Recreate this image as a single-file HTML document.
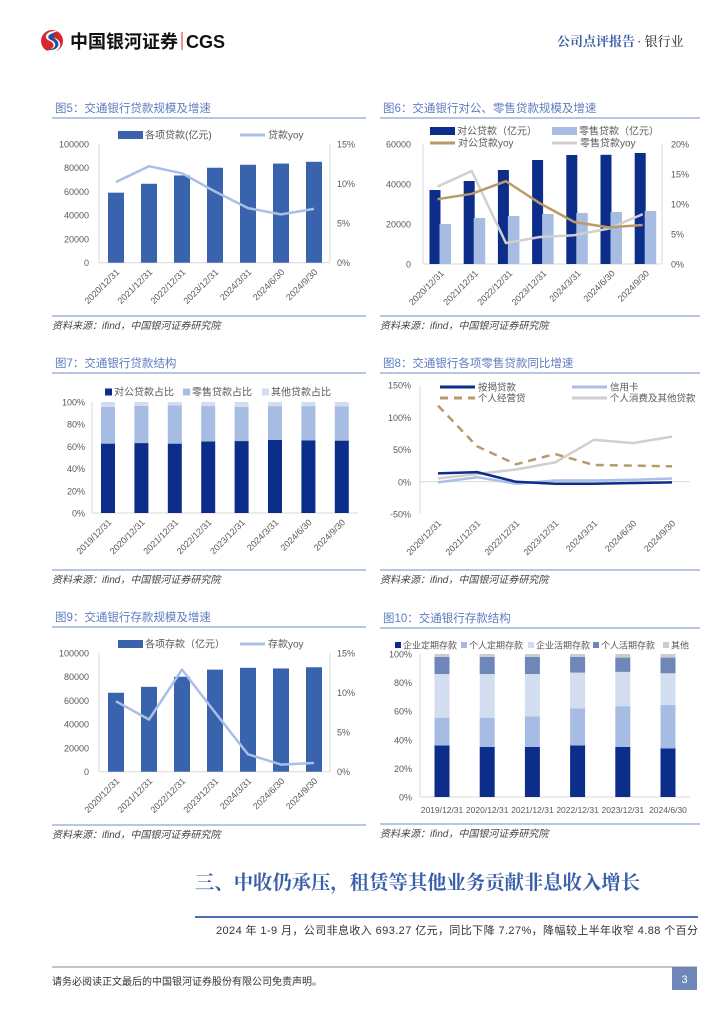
<!DOCTYPE html>
<html><head><meta charset="utf-8">
<style>
html,body{margin:0;padding:0;background:#fff;}
svg{display:block;font-family:"Liberation Sans","Noto Sans CJK SC",sans-serif;}
</style></head>
<body>
<svg id="page" width="724" height="1024" viewBox="0 0 724 1024" xmlns="http://www.w3.org/2000/svg">
  <g>
    <g>
      <circle cx="52" cy="41" r="11" fill="#d8262c"/>
      <path d="M58 31 C46 30 42 38 50 41 C57 44 53 51 44 51 C52 55 62 50 60 43 C58 37 50 38 51 35 C52 33 55 32 58 31 Z" fill="#fff"/>
      <path d="M56 33 C48 33 46 38 51 40 C58 43 56 49 48 50 C55 51 60 47 58 42 C56 38 50 38 56 33 Z" fill="#1f4e9c"/>
    </g>
    <text x="70" y="48" font-size="18" font-weight="bold" fill="#111">中国银河证券</text>
    <line x1="182" y1="32" x2="182" y2="50" stroke="#d8262c" stroke-width="1"/>
    <text x="186" y="48" font-size="18" font-weight="bold" fill="#111">CGS</text>
    <text x="557" y="46" font-size="13" font-family="'Liberation Serif','Noto Serif CJK SC',serif" font-weight="bold" fill="#3a5faa">公司点评报告</text>
    <text x="637" y="46" font-size="13" font-family="'Liberation Serif','Noto Serif CJK SC',serif" fill="#222">· 银行业</text>
  </g>
  <g id="charts"></g>
  <g>
    <text x="195" y="889" font-size="19.5" font-weight="bold" fill="#3a5faa" textLength="445" lengthAdjust="spacingAndGlyphs" font-family="'Liberation Serif','Noto Serif CJK SC',serif">三、中收仍承压，租赁等其他业务贡献非息收入增长</text>
    <line x1="195" y1="917" x2="698" y2="917" stroke="#4a6db5" stroke-width="2"/>
  </g>
  <text x="216" y="934" font-size="11" fill="#333" textLength="482" lengthAdjust="spacing">2024 年 1-9 月，公司非息收入 693.27 亿元，同比下降 7.27%，降幅较上半年收窄 4.88 个百分</text>
  <g>
    <line x1="52" y1="967" x2="697" y2="967" stroke="#888" stroke-width="1"/>
    <text x="52" y="985" font-size="10" fill="#333">请务必阅读正文最后的中国银河证券股份有限公司免责声明。</text>
    <rect x="672" y="967" width="25" height="23" fill="#6f87b8"/>
    <text x="684.5" y="983" font-size="11" fill="#fff" text-anchor="middle">3</text>
  </g>
</svg>
<script>
// ---- Figure 5 data
var f5Cats = ["2020/12/31","2021/12/31","2022/12/31","2023/12/31","2024/3/31","2024/6/30","2024/9/30"];
var f5Loans = [59000,66500,73500,80000,82500,83500,85000];
var f5Yoy = [10.2,12.2,11.3,9.0,6.9,6.1,6.8];
var f5LeftTicks = [0,20000,40000,60000,80000,100000];
var f5RightTicks = ["0%","5%","10%","15%"];
// ---- Figure 6 data
var f6Cats = ["2020/12/31","2021/12/31","2022/12/31","2023/12/31","2024/3/31","2024/6/30","2024/9/30"];
var f6Corp = [37000,41500,47000,52000,54500,54600,55500];
var f6Retail = [20000,23000,24000,25000,25500,26000,26500];
var f6CorpYoy = [10.8,11.7,13.8,10.1,7.0,6.1,6.5];
var f6RetailYoy = [12.9,15.5,3.5,4.5,4.8,5.9,8.3];
var f6LeftTicks = [0,20000,40000,60000];
var f6RightTicks = ["0%","5%","10%","15%","20%"];
// ---- Figure 7 data
var f7Cats = ["2019/12/31","2020/12/31","2021/12/31","2022/12/31","2023/12/31","2024/3/31","2024/6/30","2024/9/30"];
var f7Corp = [62.5,63,62.5,64.5,64.8,65.8,65.5,65.2];
var f7Retail = [33,33.5,34.5,31.8,30.8,30.5,30.8,30.8];
var f7Other = [4.5,3.5,3,3.7,4.4,3.7,3.7,4];
var f7Ticks = ["0%","20%","40%","60%","80%","100%"];
// ---- Figure 8 data
var f8Cats = ["2020/12/31","2021/12/31","2022/12/31","2023/12/31","2024/3/31","2024/6/30","2024/9/30"];
var f8Mortgage = [13,15,0,-3,-3,-2,-1];
var f8Card = [-1,7,-3,2,2,3,5];
var f8Biz = [118,55,27,43,26,25,24];
var f8Consumer = [5,12,19,30,65,60,70];
var f8Ticks = ["-50%","0%","50%","100%","150%"];
// ---- Figure 9 data
var f9Cats = ["2020/12/31","2021/12/31","2022/12/31","2023/12/31","2024/3/31","2024/6/30","2024/9/30"];
var f9Deposits = [66500,71500,80000,86000,87500,87000,88000];
var f9Yoy = [8.9,6.6,12.9,7.5,2.2,0.9,1.1];
var f9LeftTicks = [0,20000,40000,60000,80000,100000];
var f9RightTicks = ["0%","5%","10%","15%"];
// ---- Figure 10 data
var f10Cats = ["2019/12/31","2020/12/31","2021/12/31","2022/12/31","2023/12/31","2024/6/30"];
var f10CorpTime = [36,35,35,36,35,34];
var f10PersTime = [19.5,20.5,21.5,26,28.5,30.5];
var f10CorpDemand = [30.5,30.5,29.5,25,24,22];
var f10PersDemand = [12,12,12,11,10,11];
var f10Other = [2,2,2,2,2.5,2.5];
var f10Ticks = ["0%","20%","40%","60%","80%","100%"];

var NS="http://www.w3.org/2000/svg";
var root=document.getElementById('charts');
function mk(tag,attrs,parent,txt){var e=document.createElementNS(NS,tag);for(var k in attrs)e.setAttribute(k,attrs[k]);if(txt!==undefined)e.textContent=txt;(parent||root).appendChild(e);return e;}
function grp(name,parent){var g=mk('g',{},parent);


return g;}
function lin(d0,d1,r0,r1){return function(v){return r0+(v-d0)/(d1-d0)*(r1-r0);};}
var TC="#595959";

function frame(g,x0,x1,yTitle,title,ySrc){
  var t=mk('text',{x:x0+3,y:yTitle,'font-size':11.5,fill:'#5e7cbf'},g,title);
  
  
  mk('line',{x1:x0,y1:yTitle+6,x2:x1,y2:yTitle+6,stroke:'#9fb3dc','stroke-width':1.5},g);
  mk('line',{x1:x0,y1:ySrc,x2:x1,y2:ySrc,stroke:'#9fb3dc','stroke-width':1.5},g);
  var s=mk('text',{x:x0,y:ySrc+13,'font-size':10,fill:'#444','font-style':'italic'},g,'资料来源：ifind，中国银河证券研究院');
  
  
}
function rotLabels(g,cats,xf,y){
  cats.forEach(function(c,i){
    var t=mk('text',{x:xf(i)+4,y:y,'font-size':9,fill:TC,'text-anchor':'end',transform:'rotate(-45 '+(xf(i)+4)+' '+y+')'},g,c);
    
    
  });
}
function yLabels(g,vals,labels,yf,x,anchor){
  vals.forEach(function(v,i){
    var t=mk('text',{x:x,y:yf(v)+3.5,'font-size':9,fill:TC,'text-anchor':anchor},g,labels[i]);
    
    
  });
}
function polyline(g,xs,ys,color,w,dash,name){
  var d=xs.map(function(x,i){return (i?'L':'M')+x.toFixed(1)+' '+ys[i].toFixed(1);}).join(' ');
  var p=mk('path',{d:d,fill:'none',stroke:color,'stroke-width':w,'stroke-linejoin':'round'},g);
  if(dash)p.setAttribute('stroke-dasharray',dash);
  
  
}
function legendRect(g,x,y,color,label,w,h,fs){
  var r=mk('rect',{x:x,y:y-h/2,width:w,height:h,fill:color},g);
  
  
  var t=mk('text',{x:x+w+2,y:y+3.5,'font-size':fs||10,fill:TC},g,label);
  
  
}
function legendLine(g,x,y,color,label,w,dash,fs){
  var l=mk('line',{x1:x,y1:y,x2:x+w,y2:y,stroke:color,'stroke-width':3},g);
  if(dash)l.setAttribute('stroke-dasharray',dash);
  
  
  var t=mk('text',{x:x+w+3,y:y+3.5,'font-size':fs||10,fill:TC},g,label);
  
  
}

function barLine(name,oy,title,cats,bars,yoy,lt,rt,barLabel,lineLabel){
  var g=grp(name);
  frame(g,52,366,oy+17,title,oy+221);
  var y0=oy+167.7,y1=oy+49;
  var yL=lin(0,100000,y0,y1), yR=lin(0,15,y0,y1);
  var xf=function(i){return 116+i*33;};
  mk('line',{x1:99,y1:y0,x2:330,y2:y0,stroke:'#d9d9d9'},g);
  mk('line',{x1:99,y1:y1,x2:99,y2:y0,stroke:'#d9d9d9'},g);
  mk('line',{x1:330,y1:y1,x2:330,y2:y0,stroke:'#d9d9d9'},g);
  yLabels(g,lt,lt.map(String),yL,89,'end');
  yLabels(g,[0,5,10,15],rt,yR,337,'start');
  bars.forEach(function(v,i){
    var r=mk('rect',{x:xf(i)-8,y:yL(v),width:16,height:y0-yL(v),fill:'#3a63ad'},g);
    
    
  });
  polyline(g,cats.map(function(c,i){return xf(i);}),yoy.map(yR),'#a9bfe6',2.5,null,'yoy-line');
  rotLabels(g,cats,xf,y0+10);
  legendRect(g,118,oy+40,'#3a63ad',barLabel,25,8);
  legendLine(g,240,oy+40,'#a9bfe6',lineLabel,25);
}
barLine('figure-5-loan-scale',95,'图5：交通银行贷款规模及增速',f5Cats,f5Loans,f5Yoy,f5LeftTicks,f5RightTicks,'各项贷款(亿元)','贷款yoy');
barLine('figure-9-deposit-scale',604,'图9：交通银行存款规模及增速',f9Cats,f9Deposits,f9Yoy,f9LeftTicks,f9RightTicks,'各项存款（亿元）','存款yoy');

(function(){
  var g=grp('figure-6-corp-retail-loans');
  frame(g,380,700,112,'图6：交通银行对公、零售贷款规模及增速',316);
  var y0=264,y1=144;
  var yL=lin(0,60000,y0,y1), yR=lin(0,20,y0,y1);
  var xf=function(i){return 440.5+i*34.2;};
  mk('line',{x1:423,y1:y0,x2:662,y2:y0,stroke:'#d9d9d9'},g);
  mk('line',{x1:423,y1:y1,x2:423,y2:y0,stroke:'#d9d9d9'},g);
  mk('line',{x1:662,y1:y1,x2:662,y2:y0,stroke:'#d9d9d9'},g);
  yLabels(g,f6LeftTicks,f6LeftTicks.map(String),yL,411,'end');
  yLabels(g,[0,5,10,15,20],f6RightTicks,yR,671,'start');
  f6Corp.forEach(function(v,i){
    var r=mk('rect',{x:xf(i)-11,y:yL(v),width:11,height:y0-yL(v),fill:'#0c2d8a'},g);
    
    
  });
  f6Retail.forEach(function(v,i){
    var r=mk('rect',{x:xf(i)-1,y:yL(v),width:11.5,height:y0-yL(v),fill:'#a7bce3'},g);
    
    
  });
  var xs=f6Cats.map(function(c,i){return xf(i)-3;});
  polyline(g,xs,f6RetailYoy.map(yR),'#d0d0d0',2.5,null,'retail-yoy-line');
  polyline(g,xs,f6CorpYoy.map(yR),'#b89a6a',2.5,null,'corporate-yoy-line');
  rotLabels(g,f6Cats,xf,y0+10);
  legendRect(g,430,131,'#0c2d8a','对公贷款（亿元）',25,8);
  legendRect(g,552,131,'#a7bce3','零售贷款（亿元）',25,8);
  legendLine(g,430,143,'#b89a6a','对公贷款yoy',25);
  legendLine(g,552,143,'#d0d0d0','零售贷款yoy',25);
})();

(function(){
  var g=grp('figure-7-loan-structure');
  frame(g,52,366,367,'图7：交通银行贷款结构',570);
  var y0=513,y1=402;
  var yf=lin(0,100,y0,y1);
  var xf=function(i){return 108+i*33.4;};
  mk('line',{x1:92,y1:y0,x2:358,y2:y0,stroke:'#d9d9d9'},g);
  mk('line',{x1:92,y1:y1,x2:92,y2:y0,stroke:'#d9d9d9'},g);
  yLabels(g,[0,20,40,60,80,100],f7Ticks,yf,85,'end');
  var series=[[f7Corp,'#0c2d8a','corporate'],[f7Retail,'#a7bce3','retail'],[f7Other,'#d3ddf0','other']];
  f7Cats.forEach(function(c,i){
    var acc=0;
    series.forEach(function(s){
      var v=s[0][i];
      var r=mk('rect',{x:xf(i)-7,y:yf(acc+v),width:14,height:yf(acc)-yf(acc+v),fill:s[1]},g);
      
      
      acc+=v;
    });
  });
  rotLabels(g,f7Cats,xf,y0+10);
  legendRect(g,105,392,'#0c2d8a','对公贷款占比',7,7);
  legendRect(g,183,392,'#a7bce3','零售贷款占比',7,7);
  legendRect(g,262,392,'#d3ddf0','其他贷款占比',7,7);
})();

(function(){
  var g=grp('figure-8-retail-loan-growth');
  frame(g,380,700,367,'图8：交通银行各项零售贷款同比增速',570);
  var yf=lin(-50,150,514,385);
  var xf=function(i){return 438+i*39;};
  mk('line',{x1:420,y1:385,x2:420,y2:514,stroke:'#d9d9d9'},g);
  mk('line',{x1:420,y1:yf(0),x2:690,y2:yf(0),stroke:'#d9d9d9'},g);
  yLabels(g,[-50,0,50,100,150],f8Ticks,yf,411,'end');
  var xs=f8Cats.map(function(c,i){return xf(i);});
  polyline(g,xs,f8Consumer.map(yf),'#cfcfcf',2.5,null,'consumer-loan-line');
  polyline(g,xs,f8Card.map(yf),'#a9bfe6',2.5,null,'credit-card-line');
  polyline(g,xs,f8Mortgage.map(yf),'#0c2d8a',2.5,null,'mortgage-line');
  polyline(g,xs,f8Biz.map(yf),'#b89a6a',2.5,'8 6','business-loan-line');
  rotLabels(g,f8Cats,xf,524);
  legendLine(g,440,387,'#0c2d8a','按揭贷款',35,null,9.5);
  legendLine(g,572,387,'#a9bfe6','信用卡',35,null,9.5);
  legendLine(g,440,398,'#b89a6a','个人经营贷',35,'8 6',9.5);
  legendLine(g,572,398,'#cfcfcf','个人消费及其他贷款',35,null,9.5);
})();

(function(){
  var g=grp('figure-10-deposit-structure');
  frame(g,380,700,622,'图10：交通银行存款结构',824);
  var y0=797,y1=654;
  var yf=lin(0,100,y0,y1);
  var xf=function(i){return 442+i*45.2;};
  mk('line',{x1:420,y1:y0,x2:690,y2:y0,stroke:'#d9d9d9'},g);
  mk('line',{x1:420,y1:y1,x2:420,y2:y0,stroke:'#d9d9d9'},g);
  yLabels(g,[0,20,40,60,80,100],f10Ticks,yf,412,'end');
  var series=[[f10CorpTime,'#0c2d8a','corp-time'],[f10PersTime,'#a7bce3','personal-time'],[f10CorpDemand,'#d3ddf0','corp-demand'],[f10PersDemand,'#6f87b8','personal-demand'],[f10Other,'#cccccc','other']];
  f10Cats.forEach(function(c,i){
    var acc=0;
    series.forEach(function(s){
      var v=s[0][i];
      var r=mk('rect',{x:xf(i)-7.5,y:yf(acc+v),width:15,height:yf(acc)-yf(acc+v),fill:s[1]},g);
      
      
      acc+=v;
    });
    var t=mk('text',{x:xf(i),y:813,'font-size':8.5,fill:TC,'text-anchor':'middle'},g,c);
    
    
  });
  legendRect(g,395,645,'#0c2d8a','企业定期存款',6,6,9);
  legendRect(g,461,645,'#a7bce3','个人定期存款',6,6,9);
  legendRect(g,528,645,'#d3ddf0','企业活期存款',6,6,9);
  legendRect(g,593,645,'#6f87b8','个人活期存款',6,6,9);
  legendRect(g,663,645,'#cccccc','其他',6,6,9);
})();
</script>
</body></html>
